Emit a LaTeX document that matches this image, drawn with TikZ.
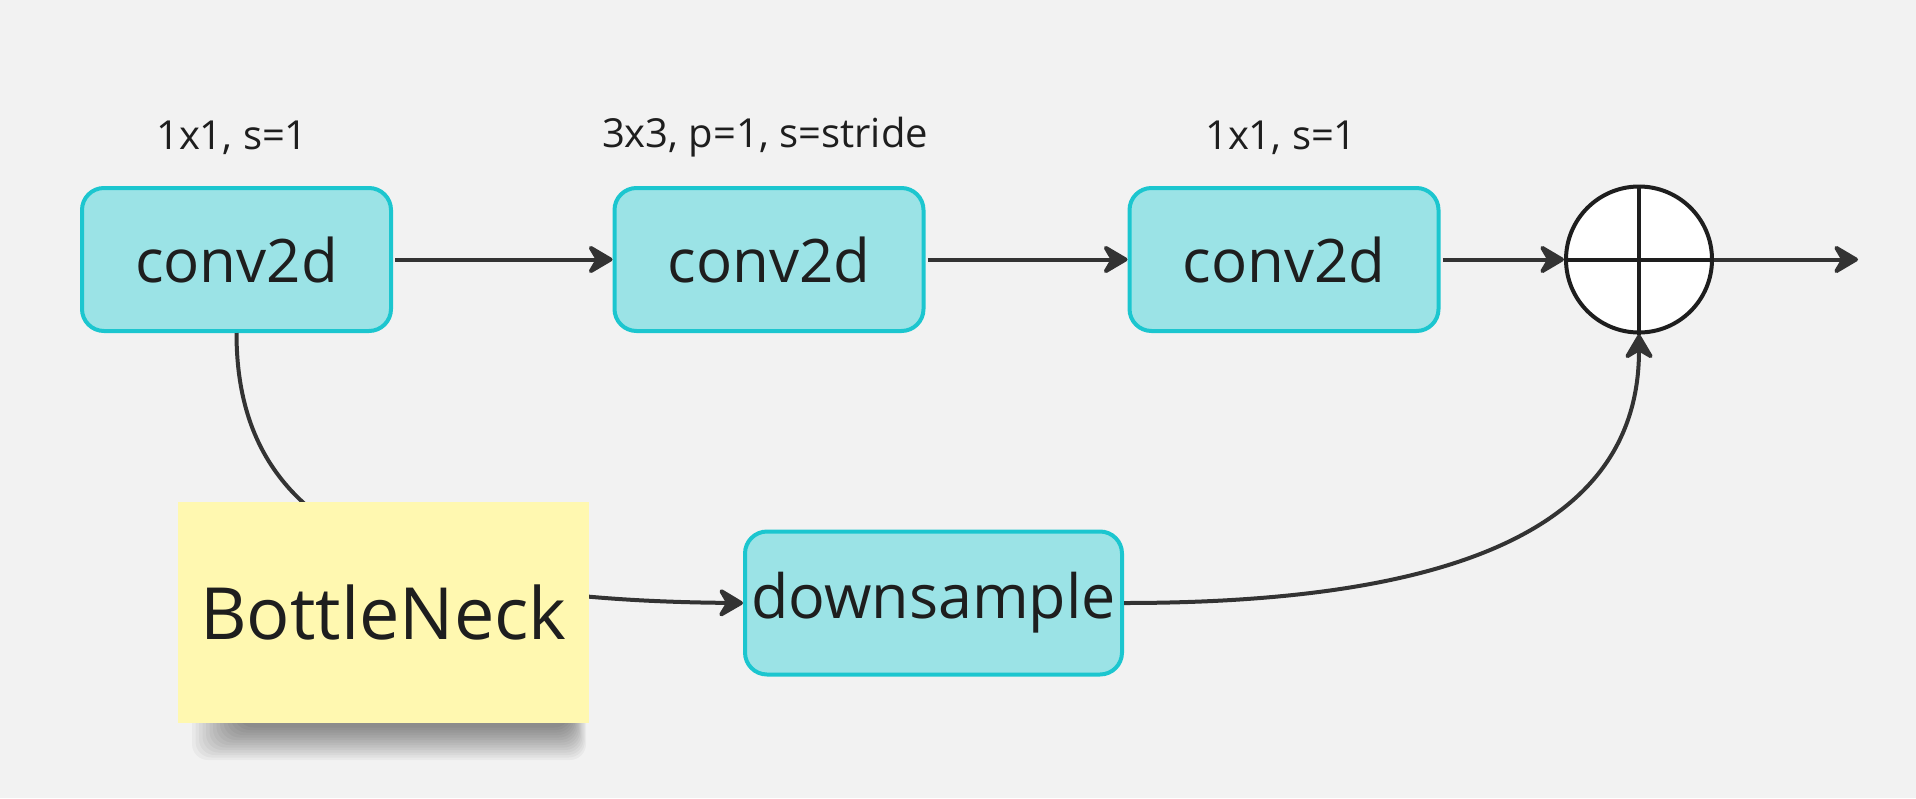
\documentclass[tikz,border=0pt]{standalone}
\usepackage{fontspec}
\setmainfont{Open Sans}
\usetikzlibrary{arrows.meta}
\definecolor{bg}{HTML}{F2F2F2}
\definecolor{boxfill}{HTML}{9BE3E6}
\definecolor{boxline}{HTML}{1CC6CF}
\definecolor{note}{HTML}{FFF8B0}
\definecolor{ink}{HTML}{1E1E1E}
\definecolor{wire}{HTML}{333333}
\begin{document}
\begin{tikzpicture}[x=0.5pt,y=-0.5pt,
  layer/.style={draw=boxline, fill=boxfill, line width=2pt, rounded corners=11pt,
    minimum width=154.5pt, minimum height=71.5pt, inner sep=0pt, text=ink,
    font=\fontsize{30}{36}\selectfont},
  param/.style={text=ink, inner sep=0pt, font=\fontsize{20}{24}\selectfont},
  wire/.style={draw=wire, line width=2pt,
    -{Stealth[length=14.5pt,width=17pt,inset=5pt,round]}},
  sticky/.style={fill=note, minimum width=205.5pt, minimum height=110.5pt,
    inner sep=0pt, text=ink, font=\fontsize{36}{43}\selectfont},
  softshade/.style={fill=black, opacity=0.036, rounded corners=8pt},
  sumnode/.style={circle, draw=ink, fill=white, line width=2pt,
    minimum size=73pt, inner sep=0pt}]

% canvas
\fill[bg] (0,0) rectangle (1916,798);
\useasboundingbox (0,0) rectangle (1916,798);

% main branch
\node[layer] (c1) at (236.5,259.5) {conv2d};
\node[layer] (c2) at (769,259.5) {conv2d};
\node[layer] (c3) at (1284,259.5) {conv2d};
\node[param] (p1) at (232,137.5) {1x1, s=1};
\node[param] (p2) at (765,137.5) {3x3, p=1, s=stride};
\node[param] (p3) at (1281,137.5) {1x1, s=1};

% element-wise sum
\node[sumnode] (sum) at (1639,259.5) {};
\draw[ink, line width=2pt] (sum.north) -- (sum.south) (sum.west) -- (sum.east);
\coordinate (out) at (1858,259.5);

% shortcut branch
\node[layer, minimum width=188.5pt, font=\fontsize{30.5}{36}\selectfont] (down) at (933.5,603) {downsample};

\draw[wire, shorten <=1pt] (c1) -- (c2);
\draw[wire, shorten <=1pt] (c2) -- (c3);
\draw[wire, shorten <=1pt] (c3) -- (sum.west);
\draw[wire] (sum.east) -- (out);

\draw[wire] (c1.south) .. controls (236.5,520) and (380,600) .. (down.west);
\draw[wire] (down.east) .. controls (1500,603) and (1639,505) .. (sum.south);

% soft shadow under the sticky note, built from stacked translucent layers
\foreach \k in {0,...,13}
  \fill[softshade] (192+3.5*\k,705) rectangle (586-1.2*\k,760-2.5*\k);

% note on top of the shortcut wire
\node[sticky] (bn) at (383.5,612.5) {BottleNeck};

\end{tikzpicture}
\end{document}
